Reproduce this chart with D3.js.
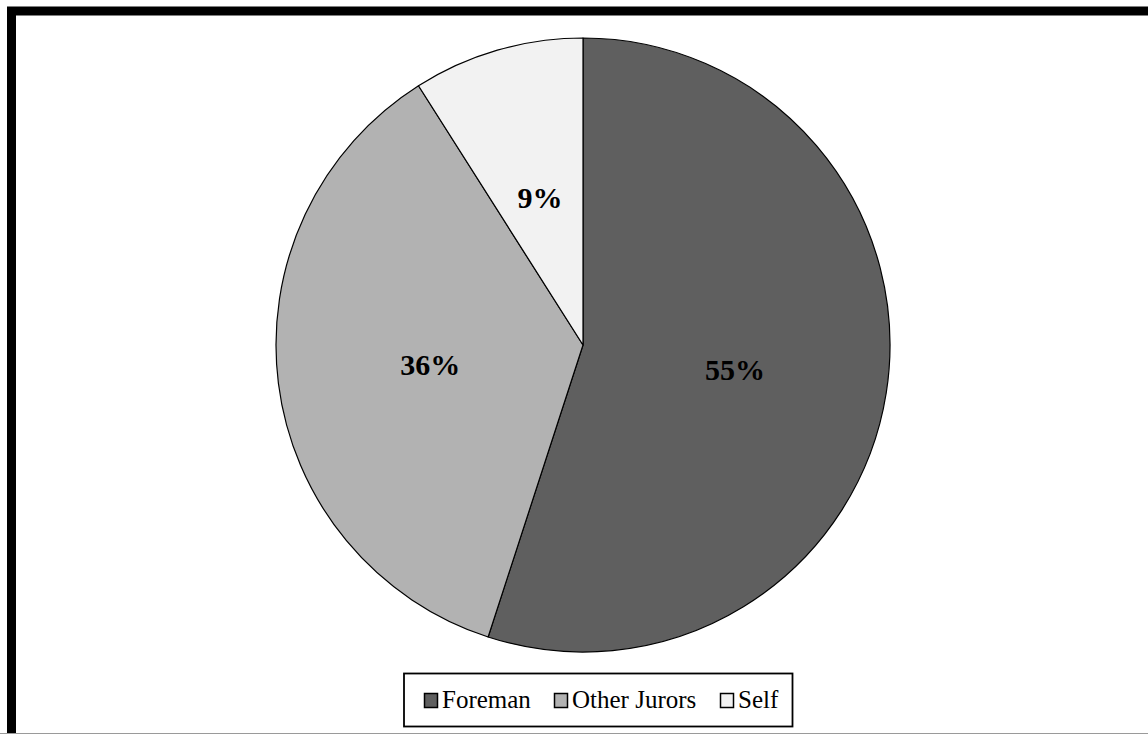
<!DOCTYPE html>
<html>
<head>
<meta charset="utf-8">
<script src="https://cdn.jsdelivr.net/npm/d3@7"></script>
<style>
  html, body { margin: 0; padding: 0; background: #fff; overflow: hidden; }
  svg { display: block; }
</style>
</head>
<body>
<svg id="chart" width="1148" height="734"></svg>
<script>
const categories = ["Foreman", "Other Jurors", "Self"];
const values = [55, 36, 9];
const labels = ["55%", "36%", "9%"];
const colors = ["#5f5f5f", "#b2b2b2", "#f2f2f2"];

const svg = d3.select("#chart");
const W = 1148, H = 734;

// outer frame (extends beyond right/bottom edges)
svg.append("rect")
  .attr("x", 11.5).attr("y", 11)
  .attr("width", W + 20).attr("height", H + 20)
  .attr("fill", "#fff")
  .attr("stroke", "#000")
  .attr("stroke-width", 9);

// bottom gray page edge
svg.append("line")
  .attr("x1", 0).attr("x2", W)
  .attr("y1", 733.5).attr("y2", 733.5)
  .attr("stroke", "#9a9a9a").attr("stroke-width", 1);

const cx = 583, cy = 345, R = 307, labelR = 154;

const pie = d3.pie().sort(null).value(d => d.v);
const data = categories.map((c, i) => ({ c, v: values[i], label: labels[i], color: colors[i] }));
const arcs = pie(data);

const arc = d3.arc().innerRadius(0).outerRadius(R);
const labelArc = d3.arc().innerRadius(labelR).outerRadius(labelR);

const g = svg.append("g").attr("transform", `translate(${cx},${cy})`);

g.selectAll("path.slice")
  .data(arcs)
  .join("path")
  .attr("class", "slice")
  .attr("d", arc)
  .attr("fill", d => d.data.color)
  .attr("stroke", "#000")
  .attr("stroke-width", 1.2)
  .attr("stroke-linejoin", "round");

g.selectAll("text.lbl")
  .data(arcs)
  .join("text")
  .attr("class", "lbl")
  .attr("transform", d => `translate(${labelArc.centroid(d)})`)
  .attr("text-anchor", "middle")
  .attr("dominant-baseline", "central")
  .attr("font-family", "'Liberation Serif', 'Times New Roman', serif")
  .attr("font-weight", "bold")
  .attr("font-size", 30)
  .attr("fill", "#000")
  .text(d => d.data.label);

// legend
const lg = svg.append("g");
lg.append("rect")
  .attr("x", 404).attr("y", 673.5)
  .attr("width", 388.5).attr("height", 53)
  .attr("fill", "#fff")
  .attr("stroke", "#000")
  .attr("stroke-width", 1.8);

const itemX = [424, 554, 720];
const items = lg.selectAll("g.item")
  .data(data)
  .join("g")
  .attr("class", "item")
  .attr("transform", (d, i) => `translate(${itemX[i]},0)`);

items.append("rect")
  .attr("x", 0.5).attr("y", 693.5)
  .attr("width", 13).attr("height", 14)
  .attr("fill", d => d.color)
  .attr("stroke", "#000")
  .attr("stroke-width", 1.5);

items.append("text")
  .attr("x", 18)
  .attr("y", 707.5)
  .attr("font-family", "'Liberation Serif', 'Times New Roman', serif")
  .attr("font-size", 25)
  .attr("fill", "#000")
  .text(d => d.c);
</script>
</body>
</html>
